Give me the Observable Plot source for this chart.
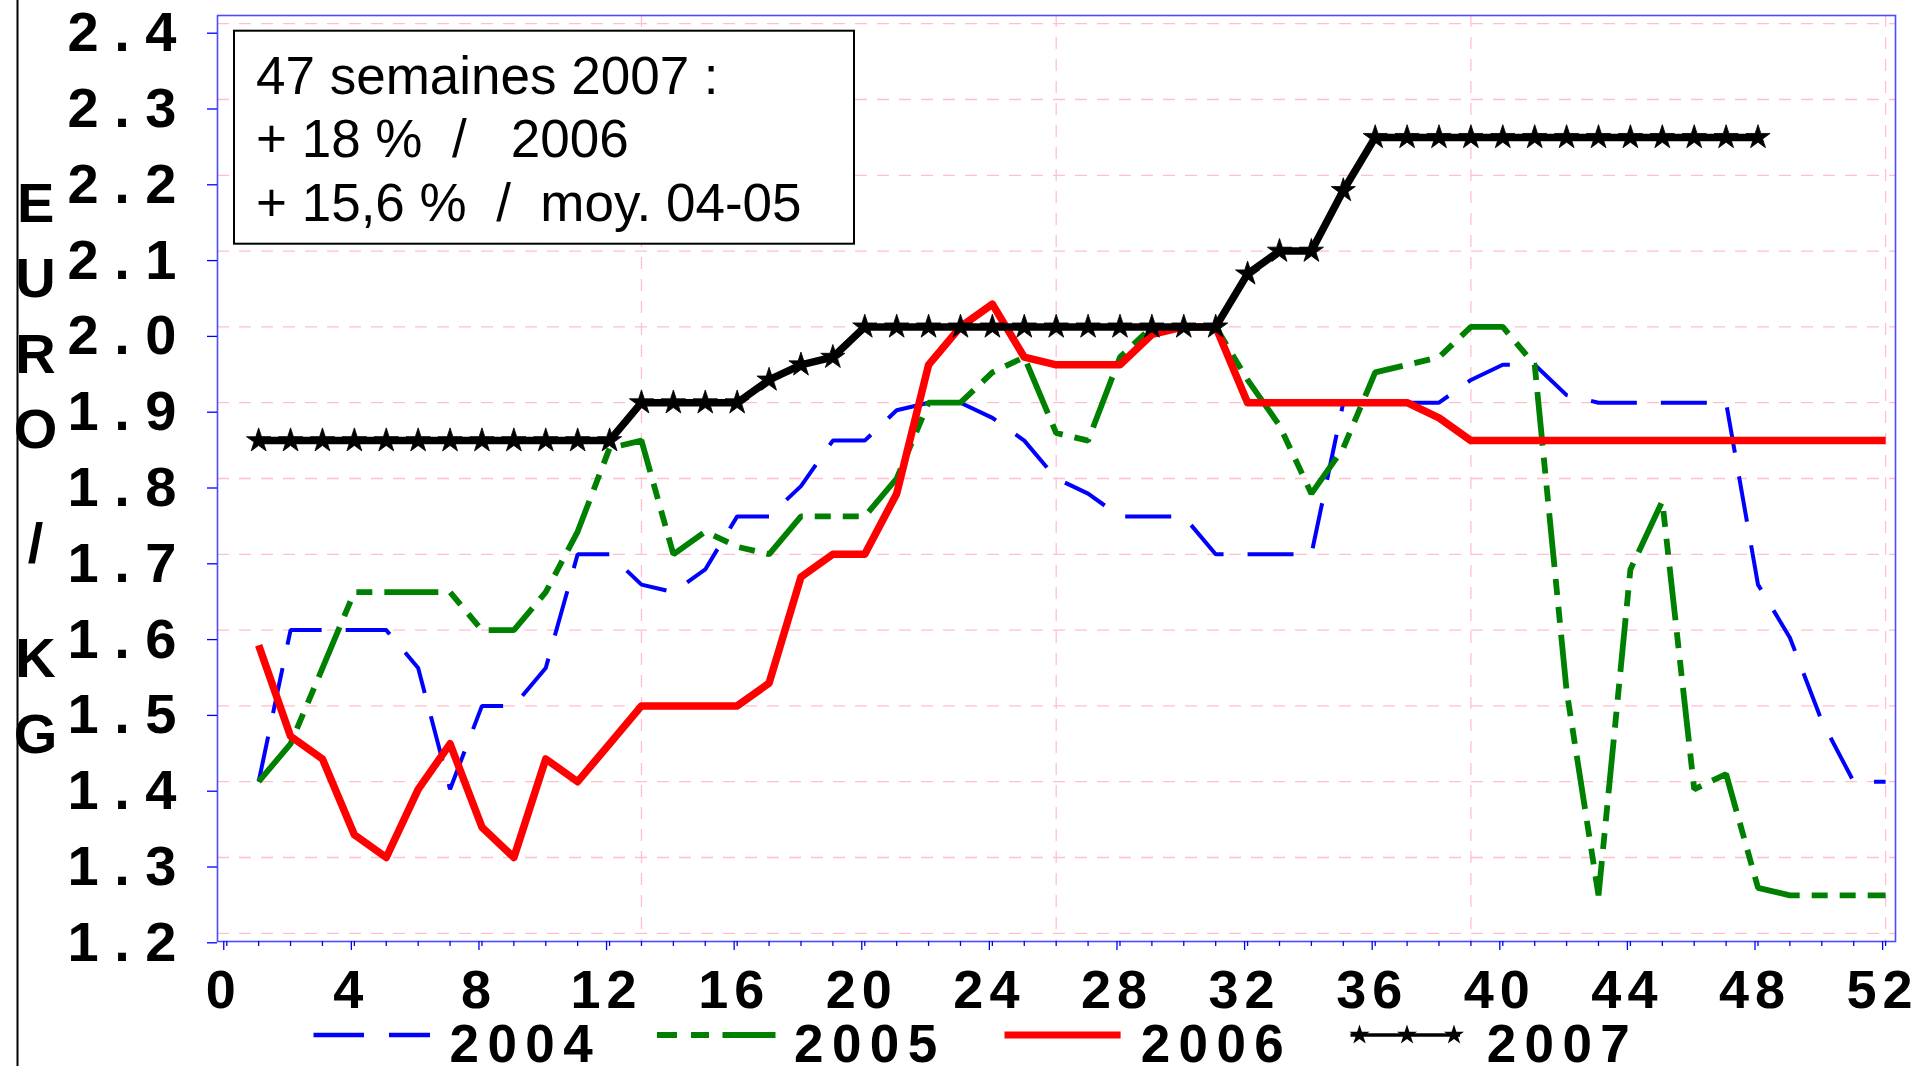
<!DOCTYPE html>
<html>
<head>
<meta charset="utf-8">
<script src="https://cdn.jsdelivr.net/npm/d3@7"></script>
<script src="https://cdn.jsdelivr.net/npm/@observablehq/plot@0.6"></script>
<style>
html, body { margin: 0; padding: 0; overflow: hidden; background: #fff; }
#chart svg { display: block; }
#chart [aria-label="x-axis tick label"] text { letter-spacing: 6px; }
</style>
</head>
<body>
<div id="chart"></div>
<script>
// ---------- data ----------
const semaines = d3.range(1, 53);          // weeks 1..52
const semaines2007 = d3.range(1, 49);      // weeks 1..48
const prix2004 = [1.40,1.60,1.60,1.60,1.60,1.55,1.39,1.50,1.50,1.55,
                  1.70,1.70,1.66,1.65,1.68,1.75,1.75,1.79,1.85,1.85,
                  1.89,1.90,1.90,1.88,1.85,1.80,1.78,1.75,1.75,1.75,
                  1.70,1.70,1.70,1.70,1.90,1.90,1.90,1.90,1.93,1.95,
                  1.95,1.91,1.90,1.90,1.90,1.90,1.90,1.66,1.59,1.48,
                  1.40,1.40];
const prix2005 = [1.40,1.45,1.55,1.65,1.65,1.65,1.65,1.60,1.60,1.65,
                  1.73,1.84,1.85,1.70,1.73,1.71,1.70,1.75,1.75,1.75,
                  1.80,1.90,1.90,1.94,1.96,1.86,1.85,1.96,2.00,2.00,
                  2.00,1.93,1.87,1.78,1.84,1.94,1.95,1.96,2.00,2.00,
                  1.95,1.52,1.25,1.68,1.77,1.39,1.41,1.26,1.25,1.25,
                  1.25,1.25];
const prix2006 = [1.58,1.46,1.43,1.33,1.30,1.39,1.45,1.34,1.30,1.43,
                  1.40,1.45,1.50,1.50,1.50,1.50,1.53,1.67,1.70,1.70,
                  1.78,1.95,2.00,2.03,1.96,1.95,1.95,1.95,1.99,2.00,
                  2.00,1.90,1.90,1.90,1.90,1.90,1.90,1.88,1.85,1.85,
                  1.85,1.85,1.85,1.85,1.85,1.85,1.85,1.85,1.85,1.85,
                  1.85,1.85];
const prix2007 = [1.85,1.85,1.85,1.85,1.85,1.85,1.85,1.85,1.85,1.85,
                  1.85,1.85,1.90,1.90,1.90,1.90,1.93,1.95,1.96,2.00,
                  2.00,2.00,2.00,2.00,2.00,2.00,2.00,2.00,2.00,2.00,
                  2.00,2.07,2.10,2.10,2.18,2.25,2.25,2.25,2.25,2.25,
                  2.25,2.25,2.25,2.25,2.25,2.25,2.25,2.25];
const annees = ["2004", "2005", "2006", "2007"];
const yTicks = [1.2,1.3,1.4,1.5,1.6,1.7,1.8,1.9,2.0,2.1,2.2,2.3,2.4];
const xTicks = [0,4,8,12,16,20,24,28,32,36,40,44,48,52];
const xMinorTicks = d3.range(0, 53);
const xGrid = [13, 26, 39, 52];
const axeY = ["E","U","R","O","/","K","G"];
const encadre = ["47 semaines 2007 :", "+ 18 %  /   2006", "+ 15,6 %  /  moy. 04-05"];

const rows = (w, v) => w.map((s, i) => ({semaine: s, prix: v[i]}));
const d2004 = rows(semaines, prix2004);
const d2005 = rows(semaines, prix2005);
const d2006 = rows(semaines, prix2006);
const d2007 = rows(semaines2007, prix2007);

// ---------- styles ----------
const font = "'Liberation Sans', Arial, Helvetica, sans-serif";
const st = {
  "2004": {stroke: "#0000ff", strokeWidth: 4, strokeDasharray: "46,24"},
  "2005": {stroke: "#008000", strokeWidth: 5.8, strokeDasharray: "54,12,16,12,16,12"},
  "2006": {stroke: "#ff0000", strokeWidth: 7.5},
  "2007": {stroke: "#000000", strokeWidth: 7.5}
};
const starR = 7.6;

const chart = Plot.plot({
  width: 1917,
  height: 1066,
  marginLeft: 217,
  marginRight: 22,
  marginTop: 15,
  marginBottom: 125,
  style: {fontFamily: font, background: "white", overflow: "visible"},
  x: {domain: [-0.29, 52.31], label: null},
  y: {domain: [1.1892, 2.4108], label: null},
  marks: [
    Plot.gridY(yTicks, {stroke: "#ffc0cb", strokeOpacity: 1, strokeWidth: 1.3, strokeDasharray: "12,10"}),
    Plot.gridX(xGrid, {stroke: "#ffc0cb", strokeOpacity: 1, strokeWidth: 1.3, strokeDasharray: "12,10"}),
    Plot.line(d2004, {x: "semaine", y: "prix", ...st["2004"], strokeLinecap: "butt", strokeLinejoin: "miter"}),
    Plot.line(d2005, {x: "semaine", y: "prix", ...st["2005"], strokeLinecap: "butt", strokeLinejoin: "miter"}),
    Plot.line(d2006, {x: "semaine", y: "prix", ...st["2006"], strokeLinecap: "butt", strokeLinejoin: "round"}),
    Plot.line(d2007, {x: "semaine", y: "prix", ...st["2007"], strokeLinecap: "butt", strokeLinejoin: "round"}),
    Plot.dot(d2007, {x: "semaine", y: "prix", symbol: "star", r: starR, fill: "black", stroke: "black", strokeWidth: 0.8}),
    Plot.frame({stroke: "#4b4bff", strokeWidth: 1.6}),
    Plot.axisY(yTicks, {
      label: null,
      tickSize: 10, tickPadding: 31, dy: 9.5,
      tickFormat: d => d.toFixed(1).split("").join(" "),
      fontSize: 56, fontWeight: "bold", fill: "black", stroke: "#0000ff", strokeWidth: 1.3
    }),
    Plot.axisX(xMinorTicks, {label: null, tickSize: 5, tickFormat: () => "", stroke: "#0000ff", strokeWidth: 1.3}),
    Plot.axisX(xTicks, {
      label: null,
      tickSize: 9, tickPadding: 19, dx: -3,
      tickFormat: d => String(d),
      fontSize: 54, fontWeight: "bold", fill: "black", stroke: "#0000ff", strokeWidth: 1.3
    })
  ]
});
document.getElementById("chart").appendChild(chart);

// ---------- annotations (label, box, legend) ----------
const svg = d3.select(chart);
svg.append("line")
  .attr("x1", 17.5).attr("x2", 17.5).attr("y1", 0).attr("y2", 1066)
  .attr("stroke", "black").attr("stroke-width", 2);

// vertical axis title, one letter per row
const lettreY = [222, 297, 373, 448, 562, 677, 752.5];
svg.append("g")
  .attr("font-family", font).attr("font-weight", "bold").attr("font-size", 56)
  .attr("text-anchor", "middle").attr("fill", "black")
  .selectAll("text").data(axeY).join("text")
  .attr("x", 35.6).attr("y", (d, i) => lettreY[i]).text(d => d);

// annotation box
const box = svg.append("g");
box.append("rect")
  .attr("x", 234).attr("y", 30.7).attr("width", 620).attr("height", 213)
  .attr("fill", "white").attr("stroke", "black").attr("stroke-width", 2);
box.append("g")
  .attr("font-family", font).attr("font-size", 53).attr("fill", "black")
  .attr("text-anchor", "start")
  .selectAll("text").data(encadre).join("text")
  .attr("x", 256).attr("y", (d, i) => 94 + i * 63.3)
  .text(d => d.replace(/ /g, "\u00A0"));

// legend
const leg = svg.append("g").attr("text-anchor", "start");
const legY = 1035;
const legText = {"2004": 449.6, "2005": 794, "2006": 1140.7, "2007": 1486.7};
const legLine = {"2004": [313.5, 430], "2005": [657, 775.5], "2006": [1004.5, 1120.6], "2007": [1350.5, 1460]};
const legDash = {"2004": "50.5,25", "2005": "20,14,18,13.5,60", "2006": null, "2007": null};
const legWidth = {"2004": 4.3, "2005": 6, "2006": 7, "2007": 3.5};
for (const a of annees) {
  const [x1, x2] = legLine[a];
  const l = leg.append("line")
    .attr("x1", x1).attr("x2", x2).attr("y1", legY).attr("y2", legY)
    .attr("stroke", st[a].stroke).attr("stroke-width", legWidth[a]);
  if (legDash[a]) l.attr("stroke-dasharray", legDash[a]);
  leg.append("text")
    .attr("x", legText[a]).attr("y", 1062)
    .attr("font-family", font).attr("font-weight", "bold").attr("font-size", 53)
    .attr("letter-spacing", "8.4px").attr("fill", "black")
    .text(a);
}
const star = d3.symbol(d3.symbolStar, Math.PI * 6.3 * 6.3)();
for (const sx of [1359.5, 1407, 1454]) {
  leg.append("path").attr("d", star).attr("transform", `translate(${sx},${legY})`).attr("fill", "black");
}
</script>
</body>
</html>
